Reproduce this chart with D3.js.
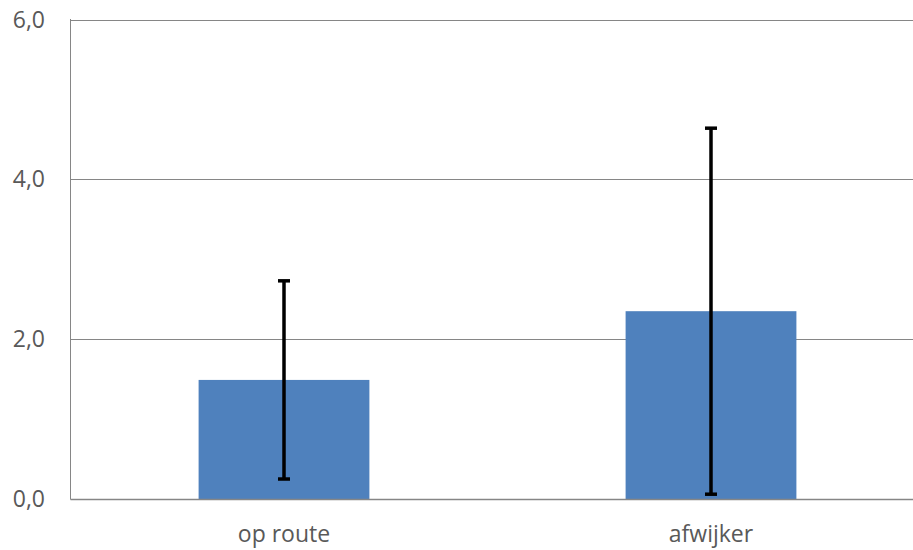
<!DOCTYPE html>
<html><head><meta charset="utf-8">
<script src="https://cdn.jsdelivr.net/npm/d3@7"></script>
<style>body{margin:0;background:#fff;overflow:hidden}svg{display:block}</style>
</head><body>
<script>
const categories = ["op route", "afwijker"];
const means = [1.49, 2.35];
const errors = [1.24, 2.29];
const yTicks = [0, 2, 4, 6];

const W = 913, H = 550;
const svg = d3.select("body").append("svg").attr("width", W).attr("height", H);
const x = d3.scaleBand().domain(categories).range([70.5, 924.5]).paddingInner(0.6).paddingOuter(0.3);
const y = d3.scaleLinear().domain([0, 6]).range([499, 19.5]);
const font = "'Open Sans', sans-serif";
const fmt = d => d.toFixed(1).replace(".", ",");

// gridlines
svg.append("g").selectAll("line").data(yTicks.filter(d => d > 0)).join("line")
  .attr("x1", 70.5).attr("x2", W).attr("y1", d => Math.round(y(d)) + 0.5).attr("y2", d => Math.round(y(d)) + 0.5)
  .attr("stroke", "#868686").attr("stroke-width", 1);

// bars
svg.append("g").selectAll("rect").data(means).join("rect")
  .attr("x", (d, i) => x(categories[i])).attr("width", x.bandwidth())
  .attr("y", d => y(d)).attr("height", d => y(0) - y(d))
  .attr("fill", "#4F81BD");

// axes lines
svg.append("line").attr("x1", 70.5).attr("x2", 70.5).attr("y1", 19).attr("y2", 499.5).attr("stroke", "#868686");
svg.append("line").attr("x1", 70.5).attr("x2", W).attr("y1", 499.5).attr("y2", 499.5).attr("stroke", "#868686").attr("stroke-width", 1.5);

// error bars
const eg = svg.append("g").selectAll("g").data(means).join("g");
eg.append("line")
  .attr("x1", (d, i) => x(categories[i]) + x.bandwidth() / 2).attr("x2", (d, i) => x(categories[i]) + x.bandwidth() / 2)
  .attr("y1", (d, i) => y(d + errors[i])).attr("y2", (d, i) => y(d - errors[i]))
  .attr("stroke", "#000").attr("stroke-width", 3.5);
["plus", "minus"].forEach(s => {
  eg.append("line")
    .attr("x1", (d, i) => x(categories[i]) + x.bandwidth() / 2 - 6).attr("x2", (d, i) => x(categories[i]) + x.bandwidth() / 2 + 6)
    .attr("y1", (d, i) => y(s === "plus" ? d + errors[i] : d - errors[i]))
    .attr("y2", (d, i) => y(s === "plus" ? d + errors[i] : d - errors[i]))
    .attr("stroke", "#000").attr("stroke-width", 3.5);
});

// y tick labels
svg.append("g").selectAll("text").data(yTicks).join("text")
  .attr("x", 45).attr("y", d => y(d) + 8).attr("text-anchor", "end")
  .attr("font-family", font).attr("font-size", 23).attr("fill", "#595959").text(fmt);

// x labels
svg.append("g").selectAll("text").data(categories).join("text")
  .attr("x", d => x(d) + x.bandwidth() / 2).attr("y", 542).attr("text-anchor", "middle")
  .attr("font-family", font).attr("font-size", 23).attr("fill", "#595959").text(d => d);
</script>
</body></html>
